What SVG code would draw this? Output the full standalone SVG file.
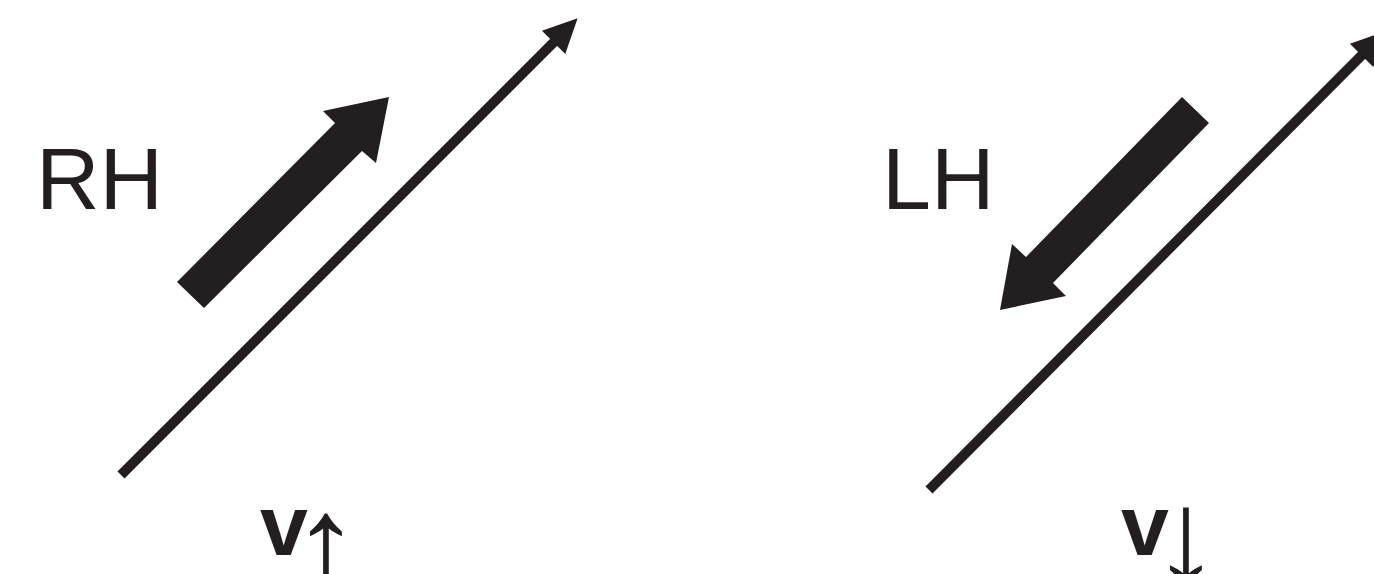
<svg xmlns="http://www.w3.org/2000/svg" width="1374" height="574" viewBox="0 0 1374 574">
<style>
.ink{fill:#231f20}
.thin{stroke:#231f20;stroke-width:10;fill:none;stroke-linecap:butt}
.lbl{font-family:"Liberation Sans",Arial,sans-serif;font-size:88px;fill:#231f20}
.vel{font-family:"Liberation Sans",Arial,sans-serif;font-size:86px;fill:#231f20}
.arr{font-size:136px;font-weight:normal}
</style>
<defs>
<marker id="head" markerUnits="userSpaceOnUse" orient="auto" refX="2" refY="0" markerWidth="40" markerHeight="40" viewBox="0 -20 40 40" overflow="visible">
<path d="M0,-16.5 L34,0 L0,16.5 z" class="ink"/>
</marker>
</defs>
<g id="connectors">
<path class="thin" d="M121,475 L555,41" marker-end="url(#head)"/>
<path class="thin" d="M929,490 L1363,54" marker-end="url(#head)"/>
</g>
<g id="rh-arrow">
<polygon class="ink" points="177,282 335,123 323,111 389,97 376,163 362,151 204,308"/>
</g>
<g id="lh-arrow">
<polygon class="ink" points="1182,97 1026,257 1012,244 1000,310 1066,296 1053,283 1209,123"/>
</g>
<g id="rh-label"><text class="lbl" x="36" y="209">RH</text></g>
<g id="lh-label"><text class="lbl" x="882" y="209">LH</text></g>
<g id="v-up"><text class="vel" x="260" y="555"><tspan font-weight="bold">v</tspan><tspan class="arr" x="292" y="590">↑</tspan></text></g>
<g id="v-down"><text class="vel" x="1121" y="555"><tspan font-weight="bold">v</tspan><tspan class="arr" x="1152" y="584">↓</tspan></text></g>
</svg>
